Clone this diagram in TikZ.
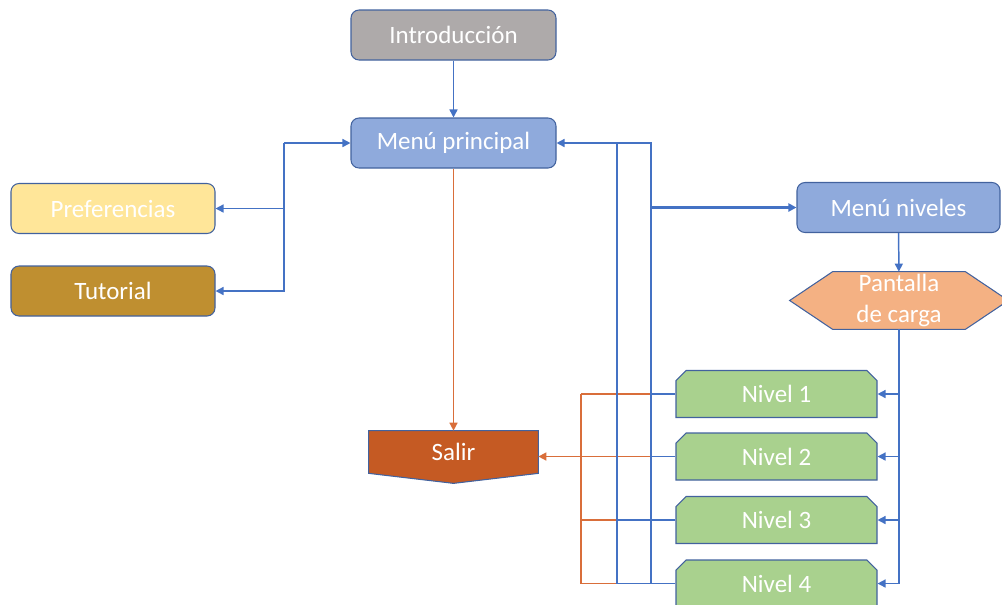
\documentclass[tikz,border=0pt]{standalone}
\usepackage{fontspec}
\setmainfont{Carlito}
\usetikzlibrary{arrows.meta,shapes.misc,backgrounds}
\definecolor{borde}{RGB}{66,98,158}
\definecolor{azul}{RGB}{68,114,196}
\definecolor{naranja}{RGB}{217,110,58}
\definecolor{gris}{RGB}{174,170,170}
\definecolor{celeste}{RGB}{143,170,220}
\definecolor{crema}{RGB}{255,230,153}
\definecolor{ocre}{RGB}{191,143,48}
\definecolor{salmon}{RGB}{244,177,131}
\definecolor{teja}{RGB}{197,90,35}
\definecolor{verde}{RGB}{169,209,142}

\begin{document}
\begin{tikzpicture}[
  texto/.style={text=white, font=\fontsize{14.2}{17.6}\selectfont},
  caja/.style={texto, rectangle, rounded corners=0.16cm, draw=borde, line width=0.6pt,
    minimum width=4.1cm, minimum height=1cm},
  nivel/.style={texto, chamfered rectangle, chamfered rectangle corners={north west,north east},
    chamfered rectangle xsep=0.09cm, chamfered rectangle angle=45, draw=borde, line width=0.6pt,
    fill=verde, minimum width=4.02cm, minimum height=0.94cm},
  linea/.style={azul, line width=0.85pt},
  flecha/.style={linea, -{Triangle[length=1.6mm,width=1.6mm]}},
  salida/.style={naranja, line width=0.85pt},
  ]
  \useasboundingbox (0,0) rectangle (20.04,-12.08);

  % Main boxes
  \node[caja, fill=gris] (intro) at (9.07,-0.70) {Introducción};
  \node[caja, fill=celeste] (menu) at (9.07,-2.86) {Menú principal};
  \node[caja, fill=crema, minimum width=4.08cm] (pref) at (2.26,-4.17) {Preferencias};
  \node[caja, fill=ocre, minimum width=4.08cm] (tuto) at (2.26,-5.82) {Tutorial};
  \node[caja, fill=celeste, minimum width=4.06cm] (niveles) at (17.97,-4.15) {Menú niveles};

  % Loading screen (hexagon) and exit (pointed box)
  \node[texto, align=center, inner sep=0pt, minimum width=2.64cm, minimum height=1.14cm] (carga) at (17.98,-6.01) {Pantalla\\de carga};
  \node[texto, minimum width=3.38cm, minimum height=0.84cm] (salir) at (9.07,-9.04) {Salir};
  \begin{scope}[on background layer]
    \filldraw[fill=salmon, draw=borde, line width=0.6pt] (carga.north west) -- (carga.north east)
      -- ([xshift=0.86cm]carga.east) -- (carga.south east) -- (carga.south west)
      -- ([xshift=-0.86cm]carga.west) -- cycle;
    \filldraw[fill=teja, draw=borde, line width=0.6pt] (salir.north west) -- (salir.north east)
      -- (salir.south east) -- ([yshift=-0.2cm]salir.south) -- (salir.south west) -- cycle;
  \end{scope}

  % Levels
  \foreach \i/\y in {1/-7.88, 2/-9.13, 3/-10.40, 4/-11.67}
    \node[nivel] (nivel\i) at (15.53,\y) {Nivel \i};

  % Bus lines
  \coordinate (busI) at (5.68,-2.86);
  \coordinate (busS) at (11.62,0);
  \coordinate (busA) at (12.34,0);
  \coordinate (busB) at (13.02,0);

  % Intro and options
  \draw[flecha] (intro) -- (menu);
  \draw[flecha] (busI) -- (menu.west);
  \draw[flecha] (busI) |- (pref.east);
  \draw[flecha] (busI) |- (tuto.east);
  \draw[salida, -{Triangle[length=1.6mm,width=1.6mm]}] (menu) -- (salir);

  % Levels back to exit
  \draw[salida] (busS |- nivel1.west) -- (busS |- nivel4.west);
  \foreach \i in {1,...,4}
    \draw[salida] (nivel\i.west) -- (busS |- nivel\i.west);
  \draw[salida, -{Triangle[length=1.6mm,width=1.6mm]}] (busS |- nivel2.west) -- (salir.east |- nivel2.west);

  % Levels back to the menus
  \draw[linea] (busA |- nivel4.west) -- (busA |- menu.east);
  \draw[flecha] (busB |- nivel4.west) |- (menu.east);
  \draw[flecha, line width=1.3pt] (busB |- niveles.west) -- (niveles.west);
  \foreach \i/\b in {1/busB, 2/busB, 3/busA, 4/busA}
    \draw[linea] (nivel\i.west) -- (\b |- nivel\i.west);

  % Level selection
  \draw[flecha] (niveles) -- (carga);
  \draw[linea] (carga.south) -- (carga.south |- nivel4.east);
  \foreach \i in {1,...,4}
    \draw[flecha] (carga.south |- nivel\i.east) -- (nivel\i.east);
\end{tikzpicture}
\end{document}
